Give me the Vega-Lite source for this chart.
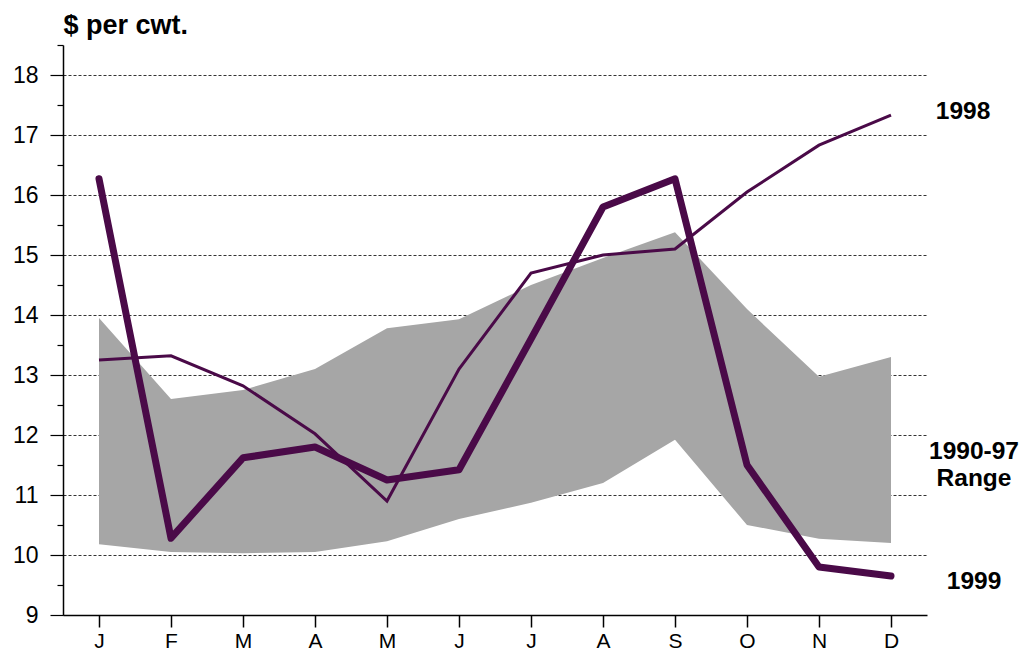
{
  "$schema": "https://vega.github.io/schema/vega-lite/v6.json",
  "autosize": "none",
  "width": 864,
  "height": 570,
  "padding": {"left": 63, "top": 45, "right": 95, "bottom": 38},
  "background": "white",
  "config": {
    "view": {"stroke": null},
    "font": "Liberation Sans"
  },
  "datasets": {
    "prices": [
      {"month": "J1", "label": "J", "lo": 10.18, "hi": 13.95, "y1998": 13.25, "y1999": 16.27},
      {"month": "F", "label": "F", "lo": 10.05, "hi": 12.6, "y1998": 13.32, "y1999": 10.28},
      {"month": "M1", "label": "M", "lo": 10.03, "hi": 12.75, "y1998": 12.82, "y1999": 11.62},
      {"month": "A1", "label": "A", "lo": 10.05, "hi": 13.1, "y1998": 12.02, "y1999": 11.8},
      {"month": "M2", "label": "M", "lo": 10.23, "hi": 13.78, "y1998": 10.9, "y1999": 11.25},
      {"month": "J2", "label": "J", "lo": 10.6, "hi": 13.93, "y1998": 13.1, "y1999": 11.42},
      {"month": "J3", "label": "J", "lo": 10.87, "hi": 14.5, "y1998": 14.7, "y1999": 13.6},
      {"month": "A2", "label": "A", "lo": 11.2, "hi": 14.95, "y1998": 15.0, "y1999": 15.8},
      {"month": "S", "label": "S", "lo": 11.92, "hi": 15.38, "y1998": 15.1, "y1999": 16.27},
      {"month": "O", "label": "O", "lo": 10.5, "hi": 14.1, "y1998": 16.05, "y1999": 11.5},
      {"month": "N", "label": "N", "lo": 10.27, "hi": 12.97, "y1998": 16.83, "y1999": 9.8},
      {"month": "D", "label": "D", "lo": 10.2, "hi": 13.3, "y1998": 17.33, "y1999": 9.65}
    ],
    "labels1998": [
      {"month": "D", "value": 17.38, "text": "1998"}
    ],
    "labelsOther": [
      {"month": "D", "value": 11.72, "text": "1990-97"},
      {"month": "D", "value": 11.27, "text": "Range"},
      {"month": "D", "value": 9.55, "text": "1999"}
    ]
  },
  "resolve": {"axis": {"y": "independent"}},
  "layer": [
    {
      "data": {"name": "prices"},
      "mark": {"type": "area", "color": "#a6a6a6", "opacity": 1},
      "encoding": {
        "x": {
          "field": "month", "type": "ordinal",
          "sort": ["J1","F","M1","A1","M2","J2","J3","A2","S","O","N","D"],
          "scale": {"type": "point", "padding": 0.5},
          "axis": {
            "title": null,
            "labelExpr": "{'J1':'J','F':'F','M1':'M','A1':'A','M2':'M','J2':'J','J3':'J','A2':'A','S':'S','O':'O','N':'N','D':'D'}[datum.value]",
            "labelFont": "Liberation Sans", "labelFontSize": 21, "labelColor": "black",
            "labelPadding": 3, "labelAngle": 0,
            "tickSize": 12, "tickColor": "black", "tickWidth": 1.5,
            "domainColor": "black", "domainWidth": 1.5,
            "grid": false
          }
        },
        "y": {
          "field": "lo", "type": "quantitative",
          "scale": {"domain": [9, 18.5], "nice": false, "zero": false},
          "axis": {
            "title": "$ per cwt.",
            "titleAngle": 0, "titleX": 0, "titleY": -12, "titleAlign": "left", "titleBaseline": "alphabetic",
            "titleFont": "Liberation Sans", "titleFontSize": 27, "titleFontWeight": "bold", "titleColor": "black",
            "values": [9,10,11,12,13,14,15,16,17,18],
            "labelFont": "Liberation Sans", "labelFontSize": 23, "labelColor": "black", "labelPadding": 12,
            "tickSize": 13, "tickColor": "black", "tickWidth": 1.2,
            "domainColor": "black", "domainWidth": 1.5,
            "grid": true, "gridColor": "#333333", "gridDash": [3, 2], "gridWidth": 1
          }
        },
        "y2": {"field": "hi"}
      }
    },
    {
      "data": {"name": "prices"},
      "mark": {"type": "line", "color": "#4a0a48", "strokeWidth": 3},
      "encoding": {
        "x": {"field": "month", "type": "ordinal", "sort": ["J1","F","M1","A1","M2","J2","J3","A2","S","O","N","D"]},
        "y": {
          "field": "y1998", "type": "quantitative",
          "axis": {
            "title": null, "orient": "left",
            "values": [9.5,10.5,11.5,12.5,13.5,14.5,15.5,16.5,17.5,18.5],
            "labels": false, "tickSize": 6, "tickColor": "black", "tickWidth": 1.2,
            "domain": false, "grid": false
          }
        }
      }
    },
    {
      "data": {"name": "prices"},
      "mark": {"type": "line", "color": "#4a0a48", "strokeWidth": 7, "strokeCap": "round", "strokeJoin": "round"},
      "encoding": {
        "x": {"field": "month", "type": "ordinal", "sort": ["J1","F","M1","A1","M2","J2","J3","A2","S","O","N","D"]},
        "y": {"field": "y1999", "type": "quantitative", "axis": null}
      }
    },
    {
      "data": {"name": "labels1998"},
      "mark": {"type": "text", "font": "Liberation Sans", "fontSize": 24.5, "fontWeight": "bold", "color": "black", "align": "center", "baseline": "middle", "dx": 72},
      "encoding": {
        "x": {"field": "month", "type": "ordinal", "sort": ["J1","F","M1","A1","M2","J2","J3","A2","S","O","N","D"]},
        "y": {"field": "value", "type": "quantitative", "axis": null},
        "text": {"field": "text"}
      }
    },
    {
      "data": {"name": "labelsOther"},
      "mark": {"type": "text", "font": "Liberation Sans", "fontSize": 24.5, "fontWeight": "bold", "color": "black", "align": "center", "baseline": "middle", "dx": 83},
      "encoding": {
        "x": {"field": "month", "type": "ordinal", "sort": ["J1","F","M1","A1","M2","J2","J3","A2","S","O","N","D"]},
        "y": {"field": "value", "type": "quantitative", "axis": null},
        "text": {"field": "text"}
      }
    }
  ]
}
